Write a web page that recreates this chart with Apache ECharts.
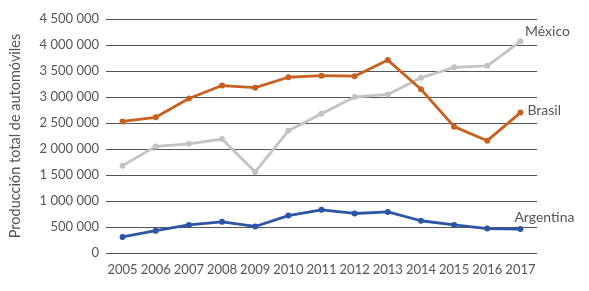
<!DOCTYPE html>
<html>
<head>
<meta charset="utf-8">
<script src="https://cdn.jsdelivr.net/npm/echarts@6/dist/echarts.min.js"></script>
<style>
  html, body { margin: 0; padding: 0; background: #fff; }
  #chart { width: 589px; height: 291px; }
</style>
</head>
<body>
<div id="chart"></div>
<script>
var years = ['2005','2006','2007','2008','2009','2010','2011','2012','2013','2014','2015','2016','2017'];
var brasil = [2530000, 2610000, 2970000, 3220000, 3180000, 3380000, 3410000, 3400000, 3710000, 3150000, 2430000, 2160000, 2700000];
var mexico = [1680000, 2050000, 2100000, 2190000, 1560000, 2350000, 2680000, 3000000, 3050000, 3370000, 3570000, 3600000, 4070000];
var argentina = [310000, 430000, 540000, 600000, 510000, 720000, 830000, 760000, 790000, 620000, 540000, 470000, 460000];

var txt = '#555555';
var font = 'Lato';

// last point carries the country name
function withEndLabel(values, name, pos, offset) {
    return values.map(function (v, i) {
        if (i < values.length - 1) return v;
        return {
            value: v,
            label: {
                show: true, formatter: name, position: pos, offset: offset,
                color: txt, fontSize: 14, fontFamily: font
            }
        };
    });
}

function fmt(v) {
    return String(v).replace(/\B(?=(\d{3})+(?!\d))/g, ' ');
}

var myChart = echarts.init(document.getElementById('chart'));
var option = {
    animation: false,
    grid: { left: 104, right: 52, top: 19, bottom: 38 },
    xAxis: {
        type: 'category',
        data: years,
        boundaryGap: true,
        axisLine: { show: false },
        axisTick: { show: false },
        axisLabel: { color: txt, fontSize: 13, fontFamily: font, margin: 10, interval: 0 }
    },
    yAxis: {
        type: 'value',
        min: 0,
        max: 4500000,
        interval: 500000,
        name: 'Producción total de automóviles',
        nameLocation: 'middle',
        nameGap: 83,
        nameTextStyle: { color: txt, fontSize: 14.5, fontFamily: font },
        axisLabel: { color: txt, fontSize: 13, fontFamily: font, margin: 7, formatter: fmt },
        splitLine: { lineStyle: { color: '#555555', width: 1.2 } }
    },
    series: [
        {
            name: 'México', type: 'line',
            data: withEndLabel(mexico, 'México', 'top', [27, 5]),
            color: '#c3c3c3', symbol: 'circle', symbolSize: 6,
            lineStyle: { width: 2.8 }, z: 2
        },
        {
            name: 'Brasil', type: 'line',
            data: withEndLabel(brasil, 'Brasil', 'right', [-1, -2]),
            color: '#c8611f', symbol: 'circle', symbolSize: 6,
            lineStyle: { width: 2.8 }, z: 3
        },
        {
            name: 'Argentina', type: 'line',
            data: withEndLabel(argentina, 'Argentina', 'top', [24, 3]),
            color: '#2d55a5', symbol: 'circle', symbolSize: 6,
            lineStyle: { width: 2.8 }, z: 3
        }
    ]
};
myChart.setOption(option);
</script>
</body>
</html>
